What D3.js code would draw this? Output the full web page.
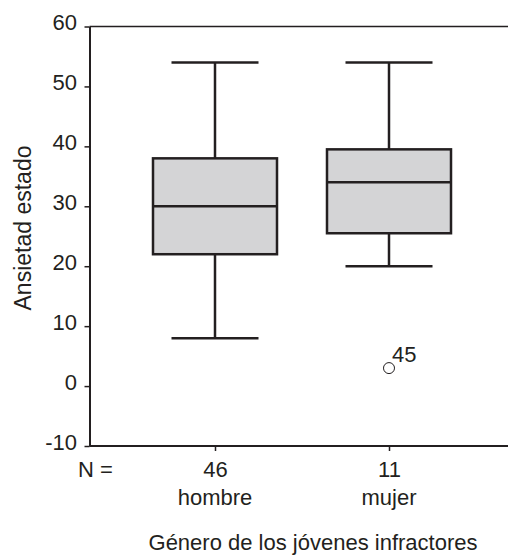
<!DOCTYPE html>
<html>
<head>
<meta charset="utf-8">
<script src="https://cdn.jsdelivr.net/npm/d3@7"></script>
<style>
  body { margin: 0; background: #fff; }
  svg { display: block; font-family: "Liberation Sans", Arial, Helvetica, sans-serif; }
</style>
</head>
<body>
<div id="chart"></div>
<script>
// box plot data
var categories = ["hombre", "mujer"];
var counts = [46, 11];
var whiskerHigh = [54, 54];
var q3 = [38, 39.5];
var medians = [30, 34];
var q1 = [22, 25.5];
var whiskerLow = [8, 20];
var outliers = [{cat: "mujer", value: 3, label: "45"}];
var yTicks = [-10, 0, 10, 20, 30, 40, 50, 60];

var width = 508, height = 560;
var ink = "#231f20";
var boxFill = "#d4d4d6";

var svg = d3.select("#chart").append("svg")
	.attr("width", width)
	.attr("height", height);

// note: "top" is taken by window.top, so plot edges get their own names
var plotLeft = 89.5, plotRight = 508, plotTop = 26.5, plotBottom = 446;

var y = d3.scaleLinear().domain([-10, 60]).range([plotBottom, plotTop]);
var x = d3.scalePoint().domain(categories).range([215, 389]);

var boxW = 124, capW = 87;

// frame: top border and bottom line
svg.append("line")
	.attr("x1", plotLeft).attr("x2", plotRight)
	.attr("y1", plotTop).attr("y2", plotTop)
	.attr("stroke", ink).attr("stroke-width", 1.5);
svg.append("line")
	.attr("x1", plotLeft).attr("x2", plotRight)
	.attr("y1", plotBottom).attr("y2", plotBottom)
	.attr("stroke", ink).attr("stroke-width", 2);

// y axis (plain hyphen for negatives, like the original)
var yAxis = svg.append("g")
	.attr("transform", "translate(" + plotLeft + ",0)")
	.call(d3.axisLeft(y).tickValues(yTicks).tickSize(5).tickSizeOuter(0).tickPadding(7.5)
		.tickFormat(function(d) { return String(d); }));
yAxis.select(".domain").attr("stroke", ink).attr("stroke-width", 2);
yAxis.selectAll(".tick line").attr("stroke", ink).attr("stroke-width", 1.5);
yAxis.selectAll(".tick text")
	.attr("fill", ink)
	.attr("font-size", 22)
	.attr("font-family", null)
	.attr("dy", "0.15em");

// x axis ticks with N counts
var xAxis = svg.append("g")
	.attr("transform", "translate(0," + plotBottom + ")")
	.call(d3.axisBottom(x).tickSize(5).tickSizeOuter(0).tickPadding(0)
		.tickFormat(function(d, i) { return counts[i]; }));
xAxis.select(".domain").remove();
xAxis.selectAll(".tick line").attr("stroke", ink).attr("stroke-width", 1.5);
xAxis.selectAll(".tick text")
	.attr("fill", ink)
	.attr("font-size", 22)
	.attr("font-family", null)
	.attr("dy", null)
	.attr("y", 31);

// category names under counts
svg.selectAll("text.cat")
	.data(categories)
	.enter().append("text")
	.attr("class", "cat")
	.attr("x", function(d) { return x(d); })
	.attr("y", 505)
	.attr("text-anchor", "middle")
	.attr("font-size", 22)
	.attr("fill", ink)
	.text(function(d) { return d; });

svg.append("text")
	.attr("x", 78)
	.attr("y", 477)
	.attr("font-size", 22)
	.attr("fill", ink)
	.text("N =");

// boxes
var boxes = svg.selectAll("g.box")
	.data(categories)
	.enter().append("g")
	.attr("class", "box");

boxes.append("line")	// upper whisker stem
	.attr("x1", function(d) { return x(d); })
	.attr("x2", function(d) { return x(d); })
	.attr("y1", function(d, i) { return y(whiskerHigh[i]); })
	.attr("y2", function(d, i) { return y(q3[i]); });
boxes.append("line")	// lower whisker stem
	.attr("x1", function(d) { return x(d); })
	.attr("x2", function(d) { return x(d); })
	.attr("y1", function(d, i) { return y(q1[i]); })
	.attr("y2", function(d, i) { return y(whiskerLow[i]); });
boxes.append("line")	// top cap
	.attr("x1", function(d) { return x(d) - capW / 2; })
	.attr("x2", function(d) { return x(d) + capW / 2; })
	.attr("y1", function(d, i) { return y(whiskerHigh[i]); })
	.attr("y2", function(d, i) { return y(whiskerHigh[i]); });
boxes.append("line")	// bottom cap
	.attr("x1", function(d) { return x(d) - capW / 2; })
	.attr("x2", function(d) { return x(d) + capW / 2; })
	.attr("y1", function(d, i) { return y(whiskerLow[i]); })
	.attr("y2", function(d, i) { return y(whiskerLow[i]); });
boxes.append("rect")
	.attr("x", function(d) { return x(d) - boxW / 2; })
	.attr("width", boxW)
	.attr("y", function(d, i) { return y(q3[i]); })
	.attr("height", function(d, i) { return y(q1[i]) - y(q3[i]); })
	.attr("fill", boxFill);
boxes.append("line")	// median
	.attr("x1", function(d) { return x(d) - boxW / 2; })
	.attr("x2", function(d) { return x(d) + boxW / 2; })
	.attr("y1", function(d, i) { return y(medians[i]); })
	.attr("y2", function(d, i) { return y(medians[i]); });
boxes.selectAll("line, rect")
	.attr("stroke", ink)
	.attr("stroke-width", 2.5);

// outliers
svg.selectAll("circle.out")
	.data(outliers)
	.enter().append("circle")
	.attr("class", "out")
	.attr("cx", function(d) { return x(d.cat); })
	.attr("cy", function(d) { return y(d.value); })
	.attr("r", 5.5)
	.attr("fill", "none")
	.attr("stroke", ink)
	.attr("stroke-width", 1);
svg.selectAll("text.outlab")
	.data(outliers)
	.enter().append("text")
	.attr("class", "outlab")
	.attr("x", function(d) { return x(d.cat) + 3; })
	.attr("y", function(d) { return y(d.value) - 6.5; })
	.attr("font-size", 22)
	.attr("fill", ink)
	.text(function(d) { return d.label; });

// axis titles
svg.append("text")
	.attr("transform", "translate(31,228) rotate(-90)")
	.attr("text-anchor", "middle")
	.attr("font-size", 23)
	.attr("fill", ink)
	.text("Ansietad estado");

svg.append("text")
	.attr("x", 313)
	.attr("y", 550)
	.attr("text-anchor", "middle")
	.attr("font-size", 22)
	.attr("fill", ink)
	.text("Género de los jóvenes infractores");
</script>
</body>
</html>
